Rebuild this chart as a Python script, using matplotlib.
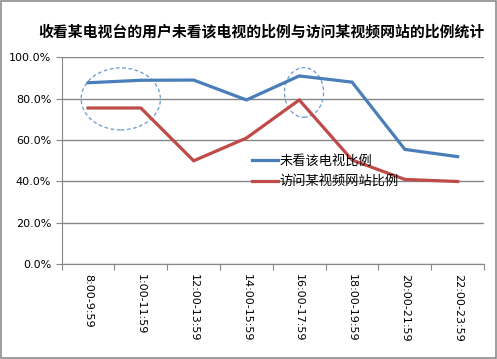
import matplotlib.pyplot as plt
import numpy as np
from matplotlib.patches import Ellipse

plt.rcParams['font.family'] = ['Noto Sans CJK SC', 'DejaVu Sans']

# data
slots = ['8:00-9:59', '1:00-11:59', '12:00-13:59', '14:00-15:59',
         '16:00-17:59', '18:00-19:59', '20:00-21:59', '22:00-23:59']
not_watch = [87.7, 88.9, 89.0, 79.4, 91.0, 88.0, 55.5, 52.0]
visit_site = [75.5, 75.5, 50.0, 61.0, 79.4, 50.4, 41.0, 40.0]

blue = '#4A7EBB'
red = '#BE4B48'

fig = plt.figure(figsize=(4.97, 3.59), dpi=100)
fig.patches.append(plt.Rectangle((0.002, 0.003), 0.995, 0.994, transform=fig.transFigure,
                                 fill=False, edgecolor='#8c8c8c', lw=1.2))
ax = fig.add_axes([0.124, 0.2638, 0.850, 0.5766])

x = np.arange(len(slots))
ax.plot(x, not_watch, color=blue, lw=2.3, label='未看该电视比例', solid_joinstyle='miter')
ax.plot(x, visit_site, color=red, lw=2.3, label='访问某视频网站比例', solid_joinstyle='miter')

# dashed ellipses highlighting areas
ax.add_patch(Ellipse((0.62, 79.9), 1.5, 30, fill=False, ls=(0, (3, 2)), color='#6a9ad0', lw=0.9))
ax.add_patch(Ellipse((4.09, 83.0), 0.74, 24, fill=False, ls=(0, (3, 2)), color='#6a9ad0', lw=0.9))

ax.set_xlim(-0.5, 7.5)
ax.set_ylim(0, 100)
ax.set_yticks(np.arange(0, 101, 20))
ax.set_yticklabels([f'{v:.1f}%' for v in np.arange(0, 101, 20)], fontsize=8, family='DejaVu Sans')
ax.set_xticks(np.arange(-0.5, 8, 1))
ax.set_xticklabels([])
ax.set_xticks(x, minor=True)
ax.set_xticklabels(slots, minor=True, rotation=270, fontsize=8, family='DejaVu Sans', va='top')
ax.tick_params(axis='x', which='minor', length=0, pad=7)
ax.tick_params(axis='x', which='major', length=4, color='#868686')
ax.tick_params(axis='y', length=4, color='#868686')
ax.grid(axis='y', color='#868686', lw=1)
ax.set_axisbelow(True)
for s in ['top', 'right']:
    ax.spines[s].set_visible(False)
for s in ['left', 'bottom']:
    ax.spines[s].set_color('#868686')

fig.text(0.525, 0.913, '收看某电视台的用户未看该电视的比例与访问某视频网站的比例统计',
         ha='center', va='center', fontsize=10.7, fontweight='bold')

ax.legend(loc='upper left', bbox_to_anchor=(240 / 497, 1 - 143 / 359), bbox_transform=fig.transFigure,
          frameon=False, fontsize=9.5, handlelength=2.0, handletextpad=0.1, labelspacing=0.55)

fig.savefig('out.png', dpi=100)
